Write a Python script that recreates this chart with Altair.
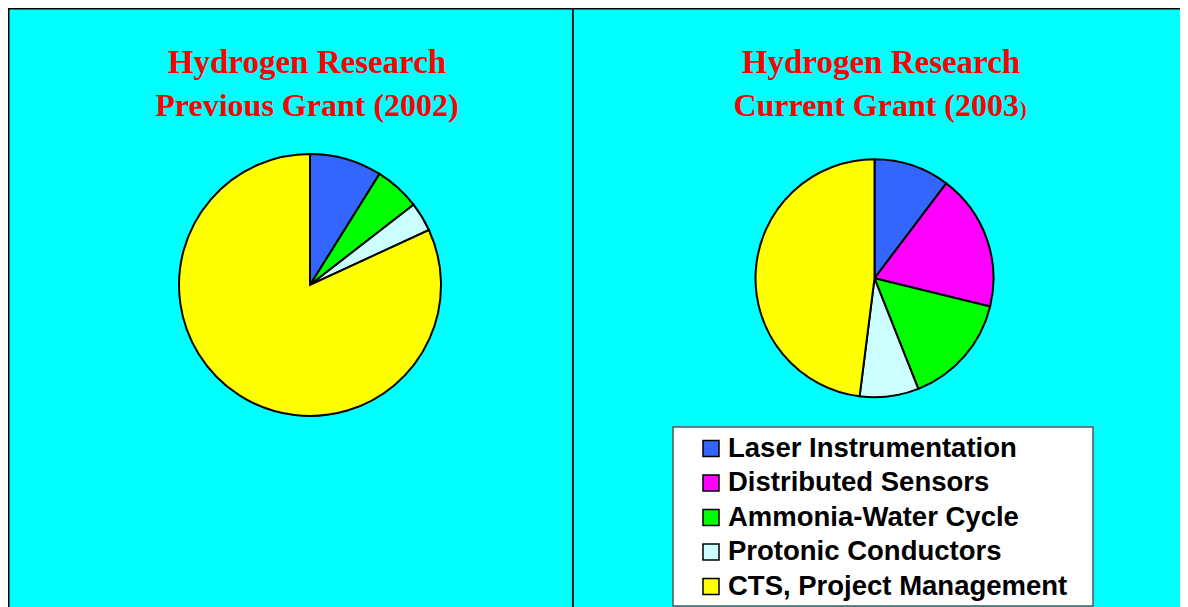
import altair as alt
import pandas as pd

# ---- data ----
categories = ["Laser Instrumentation", "Distributed Sensors", "Ammonia-Water Cycle",
              "Protonic Conductors", "CTS, Project Management"]
colors = ["#3366FF", "#FF00FF", "#00FF00", "#CCFFFF", "#FFFF00"]
share_2002 = [8.9, 0.0, 5.6, 3.6, 81.9]
share_2003 = [10.3, 18.5, 15.2, 8.0, 48.0]
title_left_1 = "Hydrogen Research"
title_left_2 = "Previous Grant (2002)"
title_right_1 = "Hydrogen Research"
title_right_2 = "Current Grant (2003"
title_right_paren = ")"

# ---- layout (pixels) ----
W, H = 1172, 599
SPLIT = 565
CYAN = "#00FFFF"
TITLE_FONT = "Liberation Serif"
LABEL_FONT = "Liberation Sans"

one = pd.DataFrame({"k": [0]})
color_scale = alt.Scale(domain=categories, range=colors)


def panel(x0, x1):
    return alt.Chart(one).mark_rect(fill=CYAN, stroke="black", strokeWidth=1.5).encode(
        x=alt.value(x0), x2=alt.value(x1), y=alt.value(0.75), y2=alt.value(H + 30)
    )


def pie(values, cx, cy, r):
    df = pd.DataFrame({"cat": categories, "value": values, "idx": list(range(len(categories)))})
    df = df[df["value"] > 0]
    return alt.Chart(df).mark_arc(radius=r, stroke="black", strokeWidth=2).encode(
        theta=alt.Theta("value:Q", stack=True),
        color=alt.Color("cat:N", scale=color_scale, legend=None),
        order=alt.Order("idx:Q"),
        x=alt.value(cx),
        y=alt.value(cy),
    )


def single_text(txt, x, y, size, align):
    return alt.Chart(one).mark_text(
        text=txt, font=TITLE_FONT, fontSize=size, fontWeight="bold", color="#FF0000",
        align=align, baseline="alphabetic"
    ).encode(x=alt.value(x), y=alt.value(y))


leg_df = pd.DataFrame({"cat": categories, "idx": list(range(len(categories)))})
LY0, LSTEP = 440.5, 34.5

legend_box = alt.Chart(one).mark_rect(fill="white", stroke="#555555", strokeWidth=1.5).encode(
    x=alt.value(665), x2=alt.value(1085), y=alt.value(419), y2=alt.value(598)
)
legend_sq = alt.Chart(leg_df).transform_calculate(ly=f"{LY0} + datum.idx * {LSTEP}").mark_square(
    size=256, opacity=1, stroke="black", strokeWidth=1.5
).encode(
    x=alt.value(703), y=alt.Y("ly:Q", scale=None),
    color=alt.Color("cat:N", scale=color_scale, legend=None)
)
legend_txt = alt.Chart(leg_df).transform_calculate(ly=f"{LY0} + datum.idx * {LSTEP}").mark_text(
    align="left", baseline="middle", font=LABEL_FONT, fontSize=27.5, fontWeight="bold", color="black"
).encode(x=alt.value(720), y=alt.Y("ly:Q", scale=None), text="cat:N")

chart = alt.layer(
    panel(0.75, SPLIT),
    panel(SPLIT, W + 30),
    pie(share_2002, 302, 277, 131),
    pie(share_2003, 866.5, 270.3, 119),
    single_text(title_left_1, 299, 65, 33, "center"),
    single_text(title_left_2, 299, 108, 32, "center"),
    single_text(title_right_1, 873, 65, 33, "center"),
    single_text(title_right_2, 1011, 108, 32, "right"),
    single_text(title_right_paren, 1012, 108, 20, "left"),
    legend_box,
    legend_sq,
    legend_txt,
).resolve_scale(theta="independent").properties(
    width=W, height=H, padding=0, autosize=alt.AutoSizeParams(type="none")
).configure_view(strokeWidth=0)

chart.save("out.html", embed_options={"renderer": "svg", "actions": False})
